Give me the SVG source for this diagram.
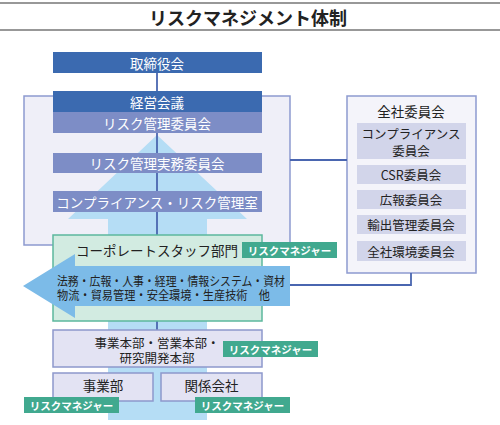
<svg xmlns="http://www.w3.org/2000/svg" width="500" height="425" viewBox="0 0 500 425">
<style>
text{font-family:"Noto Sans CJK JP","Noto Sans",sans-serif;text-anchor:middle;dominant-baseline:central;fill:#222}
.w{fill:#fff}
.dk{fill:#3b6ab0}
.md{fill:#7d8dc6}
.lv{fill:#e3e3f3;stroke:#8d98cc;stroke-width:1.5}
.it{fill:#d2d5ea}
.tag{fill:#41a98f}
.tt{fill:#fff;font-weight:bold;font-size:10.5px}
.cn{stroke:#4a66b0;stroke-width:1.8;fill:none}
.t13{font-size:13.5px}
.t12{font-size:12.5px}
</style>
<g id="title">
<line x1="0" y1="3" x2="500" y2="3" stroke="#333" stroke-width="1.2"/>
<line x1="0" y1="30" x2="500" y2="30" stroke="#333" stroke-width="1.2"/>
<text x="248" y="17" style="font-size:18px;font-weight:bold">リスクマネジメント体制</text>
</g>
<g id="management-frame">
<rect x="24" y="96" width="266" height="149" fill="#efeff8" stroke="#8d9ad0" stroke-width="1.5"/>
</g>
<g id="zensha">
<rect x="347" y="96" width="129" height="177" fill="#f4f4fa" stroke="#8d9ad0" stroke-width="1.5"/>
<text x="411" y="111" class="t13">全社委員会</text>
<rect x="357" y="123" width="109" height="36" class="it"/>
<text x="411" y="133" class="t12"><tspan x="411" y="133">コンプライアンス</tspan><tspan x="411" y="150">委員会</tspan></text>
<rect x="357" y="165" width="109" height="19" class="it"/>
<text x="411" y="174.5" class="t12">CSR委員会</text>
<rect x="357" y="190" width="109" height="19" class="it"/>
<text x="411" y="199.5" class="t12">広報委員会</text>
<rect x="357" y="215" width="109" height="19" class="it"/>
<text x="411" y="224.5" class="t12">輸出管理委員会</text>
<rect x="357" y="241" width="109" height="20" class="it"/>
<text x="411" y="251" class="t12">全社環境委員会</text>
</g>
<g id="up-arrow">
<polygon points="157,135 247,219 207,219 207,420 108,420 108,219 68,219" fill="#b5ddf5"/>
</g>
<g id="connectors">
<line x1="157" y1="72" x2="157" y2="330" class="cn" stroke-width="1.5"/>
<line x1="290" y1="160" x2="347" y2="160" class="cn"/>
<polyline points="411,273 411,285 290,285" class="cn"/>
</g>
<g id="torishimariyakukai">
<rect x="53" y="52" width="209" height="21" class="dk"/>
<text x="157" y="62.5" class="t13 w">取締役会</text>
</g>
<g id="keiei-kaigi">
<rect x="53" y="91" width="209" height="21" class="dk"/>
<text x="157" y="101.5" class="t13 w">経営会議</text>
</g>
<g id="risk-iinkai">
<rect x="53" y="112" width="209" height="21" class="md"/>
<text x="157" y="122.5" class="t13 w">リスク管理委員会</text>
</g>
<g id="risk-jitsumu">
<rect x="53" y="153" width="209" height="20" class="md"/>
<text x="157" y="163" class="t13 w">リスク管理実務委員会</text>
</g>
<g id="compliance-shitsu">
<rect x="53" y="191" width="209" height="21" class="md"/>
<text x="157" y="201.5" class="t13 w">コンプライアンス・リスク管理室</text>
</g>
<g id="corporate-staff">
<rect x="53" y="235" width="209" height="86" fill="#d2ebe1" stroke="#5cb89d" stroke-width="1.5"/>
<text x="157" y="250" class="t13">コーポレートスタッフ部門</text>
<rect x="242" y="242" width="95" height="16" class="tag"/>
<text x="289.5" y="250" class="tt">リスクマネジャー</text>
<polygon points="23,286 75,254 75,266 290,266 290,306 75,306 75,318" fill="#7cbbe8"/>
<text class="t12" style="text-anchor:start"><tspan x="57" y="279.5" textLength="228" lengthAdjust="spacingAndGlyphs">法務・広報・人事・経理・情報システム・資材</tspan><tspan x="57" y="294" textLength="213" lengthAdjust="spacingAndGlyphs">物流・貿易管理・安全環境・生産技術　他</tspan></text>
</g>
<g id="jigyo-honbu">
<rect x="53" y="330" width="209" height="37" class="lv"/>
<text class="t12"><tspan x="157" y="341.5">事業本部・営業本部・</tspan><tspan x="157" y="357">研究開発本部</tspan></text>
<rect x="223" y="341" width="95" height="16" class="tag"/>
<text x="270.5" y="349" class="tt">リスクマネジャー</text>
</g>
<g id="jigyobu">
<rect x="53" y="373" width="100" height="28" class="lv"/>
<text x="103" y="385" class="t13">事業部</text>
<rect x="24" y="397" width="95" height="16" class="tag"/>
<text x="71.5" y="405" class="tt">リスクマネジャー</text>
</g>
<g id="kankei-kaisha">
<rect x="161" y="373" width="101" height="28" class="lv"/>
<text x="211.5" y="385" class="t13">関係会社</text>
<rect x="195" y="397" width="95" height="16" class="tag"/>
<text x="242.5" y="405" class="tt">リスクマネジャー</text>
</g>
</svg>
